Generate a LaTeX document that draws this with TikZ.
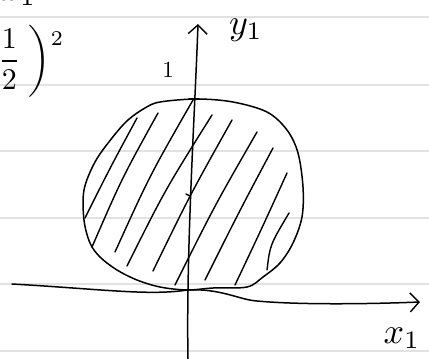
\documentclass[tikz,border=0pt]{standalone}
\usepackage{graphicx}
\usetikzlibrary{arrows.meta}
\definecolor{rule}{HTML}{E2E2E2}
\begin{document}
\begin{tikzpicture}[x=1pt,y=-1pt,
  ink/.style={line width=1.5pt,line cap=round,line join=round},
  ruled/.style={line width=1.3pt,rule},
  hatch/.style={ink,line width=1.4pt},
  tip/.style={-{Straight Barb[length=9pt,width=19pt,line width=1.4pt]}},
  lab/.style={inner sep=0pt}]
\useasboundingbox (0,0) rectangle (429,359);
\fill[white] (0,0) rectangle (429,359);
% ruled paper
\foreach \yy in {17,85,151,218,284,351}
  \draw[ruled] (0,\yy) -- (429,\yy);
% circle region outline
\draw[ink] plot[smooth cycle,tension=0.55] coordinates {
 (160,102) (197,99) (233,102) (267,112) (287,130) (298,153) (303,187)
 (302,217) (293,243) (280,263) (263,277) (247,287) (213,288) (187,290)
 (160,287) (137,280) (117,270) (100,257) (90,243) (84,220) (84,190)
 (95,162) (112,138) (128,120) (145,108)};
% hatching
\draw[hatch] (85,218) .. controls (110,168) .. (137,118);
\draw[hatch] (92,247) .. controls (122,178) .. (158,113);
\draw[hatch] (115,252) .. controls (150,175) .. (193,100);
\draw[hatch] (127,266) .. controls (165,190) .. (212,115);
\draw[hatch] (153,271) .. controls (190,195) .. (232,120);
\draw[hatch] (175,285) .. controls (215,205) .. (257,132);
\draw[hatch] (205,280) .. controls (240,210) .. (273,148);
\draw[hatch] (235,285) .. controls (262,228) .. (287,173);
\draw[hatch] (267,270) .. controls (270,245) .. (289,213);
% axes
\coordinate (ybot) at (188,359);
\coordinate (ytop) at (198,24);
\draw[ink,tip] (ybot) .. controls (186,250) and (195,110) .. (ytop);
\coordinate (xl) at (12,284);
\coordinate (xr) at (420,302);
\draw[ink,tip] (xl) .. controls (100,289) and (150,296) .. (187,290)
  .. controls (220,288) and (240,300) .. (257,301)
  .. controls (300,305) and (370,304) .. (xr);
% ticks
\draw[ink] (189,99) -- (199,99);
\draw[ink] (186,194) -- (190,196);
% labels
\node[lab] (ylab) at (246,30) {\scalebox{3.6}{$y_1$}};
\node[lab] (xlab) at (402,338) {\scalebox{3.6}{$x_1$}};
\node[lab] (one) at (168,70) {\scalebox{2.3}{$1$}};
\node[lab] (xcut) at (18,-5) {\scalebox{3.6}{$x_1$}};
\node[lab,anchor=west] (frac) at (-2,61) {\scalebox{3}{$\displaystyle\frac{1}{2}\;\bigg)\raisebox{1.8ex}{$\scriptstyle 2$}$}};
\end{tikzpicture}
\end{document}
